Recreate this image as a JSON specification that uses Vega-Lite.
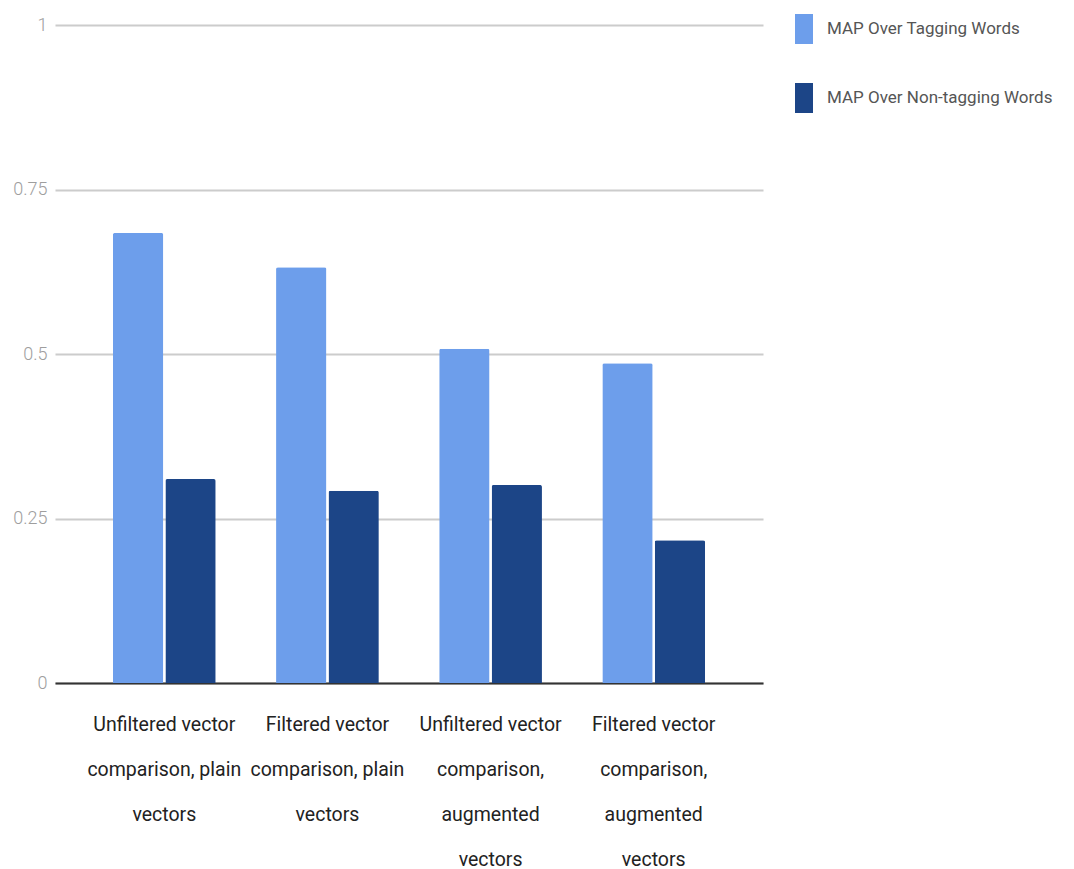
{
  "$schema": "https://vega.github.io/schema/vega-lite/v6.json",
  "width": 708,
  "height": 658,
  "autosize": "none",
  "padding": {"left": 55, "top": 25, "right": 311, "bottom": 186},
  "background": "white",
  "config": {
    "view": {"stroke": null},
    "font": "Roboto"
  },
  "data": {
    "values": [
      {"method": "Unfiltered vector\ncomparison, plain\nvectors", "series": "MAP Over Tagging Words", "map": 0.684},
      {"method": "Unfiltered vector\ncomparison, plain\nvectors", "series": "MAP Over Non-tagging Words", "map": 0.310},
      {"method": "Filtered vector\ncomparison, plain\nvectors", "series": "MAP Over Tagging Words", "map": 0.632},
      {"method": "Filtered vector\ncomparison, plain\nvectors", "series": "MAP Over Non-tagging Words", "map": 0.292},
      {"method": "Unfiltered vector\ncomparison,\naugmented\nvectors", "series": "MAP Over Tagging Words", "map": 0.508},
      {"method": "Unfiltered vector\ncomparison,\naugmented\nvectors", "series": "MAP Over Non-tagging Words", "map": 0.301},
      {"method": "Filtered vector\ncomparison,\naugmented\nvectors", "series": "MAP Over Tagging Words", "map": 0.486},
      {"method": "Filtered vector\ncomparison,\naugmented\nvectors", "series": "MAP Over Non-tagging Words", "map": 0.217}
    ]
  },
  "mark": {"type": "bar", "cornerRadiusTopLeft": 2, "cornerRadiusTopRight": 2},
  "encoding": {
    "x": {
      "field": "method",
      "type": "nominal",
      "sort": null,
      "scale": {"paddingInner": 0.37, "paddingOuter": 0.355},
      "axis": {
        "title": null,
        "labelAngle": 0,
        "labelExpr": "split(datum.label, '\\n')",
        "labelFont": "Roboto",
        "labelFontSize": 19.5,
        "labelLineHeight": 45,
        "labelColor": "#222222",
        "labelBaseline": "top",
        "labelPadding": 32,
        "labelLimit": 300,
        "ticks": false,
        "domainColor": "#333333",
        "domainWidth": 2,
        "grid": false
      }
    },
    "xOffset": {
      "field": "series",
      "type": "nominal",
      "sort": ["MAP Over Tagging Words", "MAP Over Non-tagging Words"],
      "scale": {"paddingInner": 0.04}
    },
    "y": {
      "field": "map",
      "type": "quantitative",
      "scale": {"domain": [0, 1], "nice": false},
      "axis": {
        "title": null,
        "values": [0, 0.25, 0.5, 0.75, 1],
        "labelExpr": "'' + datum.value",
        "labelFont": "Roboto",
        "labelFontWeight": 300,
        "labelFontSize": 18,
        "labelColor": "#9e9e9e",
        "labelPadding": 8,
        "ticks": false,
        "domain": false,
        "gridColor": "#cccccc",
        "gridWidth": 2
      }
    },
    "color": {
      "field": "series",
      "type": "nominal",
      "sort": ["MAP Over Tagging Words", "MAP Over Non-tagging Words"],
      "scale": {"range": ["#6d9eeb", "#1c4587"]},
      "legend": {
        "title": null,
        "orient": "none",
        "legendX": 734,
        "legendY": -11,
        "symbolType": "M-0.6,-1L0.6,-1L0.6,1L-0.6,1Z",
        "symbolSize": 900,
        "symbolStrokeWidth": 0,
        "labelFont": "Roboto",
        "labelFontSize": 17,
        "labelColor": "#555555",
        "labelOffset": 8,
        "labelLimit": 300,
        "rowPadding": 39
      }
    }
  }
}
